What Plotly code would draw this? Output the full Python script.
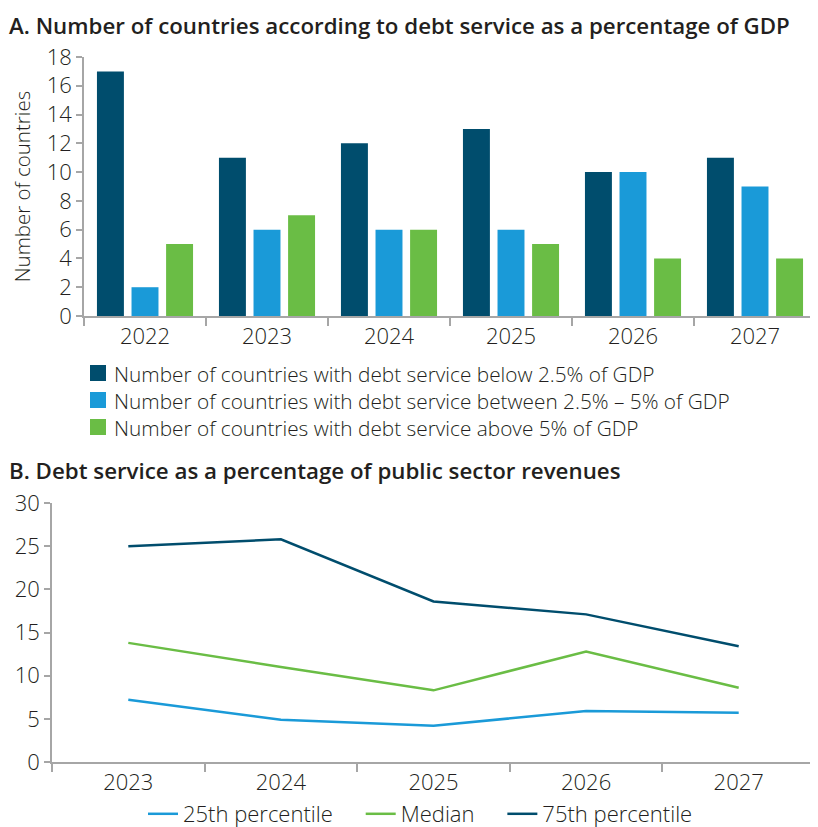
import plotly.graph_objects as go

years_a = ["2022", "2023", "2024", "2025", "2026", "2027"]
below_25 = [17, 11, 12, 13, 10, 11]
between_25_5 = [2, 6, 6, 6, 10, 9]
above_5 = [5, 7, 6, 5, 4, 4]
names_a = [
    "Number of countries with debt service below 2.5% of GDP",
    "Number of countries with debt service between 2.5% \u2013 5% of GDP",
    "Number of countries with debt service above 5% of GDP",
]

years_b = ["2023", "2024", "2025", "2026", "2027"]
p25 = [7.2, 4.9, 4.2, 5.9, 5.7]
median = [13.8, 11.0, 8.3, 12.8, 8.6]
p75 = [25.0, 25.8, 18.6, 17.1, 13.4]
names_b = ["25th percentile", "Median", "75th percentile"]

DARK = "#004d6d"
BLUE = "#1a9ad8"
GREEN = "#6abd45"
AX = "#a6a6a6"
TXT = "#231f20"
FONT = "Open Sans"

W, H = 818, 827
OFF = 8  # page body margin


def px_x(p):
    return (p - OFF) / W


def px_y(p):
    return (H - (p - OFF)) / H


fig = go.Figure()
colors_a = [DARK, BLUE, GREEN]
for vals, name, col in zip([below_25, between_25_5, above_5], names_a, colors_a):
    fig.add_trace(go.Bar(x=years_a, y=vals, name=name, marker=dict(color=col, line=dict(width=0)),
                         xaxis="x", yaxis="y", showlegend=False))

pad = "\u00a0\u00a0\u00a0\u00a0"
for i, (vals, name, col) in enumerate(zip([p25, median, p75], names_b, [BLUE, GREEN, DARK])):
    label = name + (pad if i < 2 else "")
    fig.add_trace(go.Scatter(x=years_b, y=vals, name=label, mode="lines", line=dict(color=col, width=2.5),
                             xaxis="x2", yaxis="y2", legend="legend2"))

tickfont = dict(family=FONT, size=22, color=TXT, weight=300)
axis_common = dict(showline=True, linecolor=AX, linewidth=1.5, showgrid=False, zeroline=False,
                   ticks="outside", tickcolor=AX, tickwidth=1.5, automargin=False,
                   tickfont=tickfont)

# custom legend for panel A (key squares + one multi-line label block)
legend_rows = [373, 400, 427]
shapes = []
for col, yc in zip(colors_a, legend_rows):
    shapes.append(dict(type="rect", xref="paper", yref="paper",
                       x0=px_x(90), x1=px_x(106), y0=px_y(yc + 8), y1=px_y(yc - 8),
                       fillcolor=col, line=dict(width=0)))

annotations = [
    dict(text="<br>".join(names_a), x=px_x(112), y=px_y(401), xref="paper", yref="paper",
         xanchor="left", yanchor="middle", align="left", showarrow=False,
         font=dict(family=FONT, size=20.8, color=TXT, weight=300)),
    dict(text="A. Number of countries according to debt service as a percentage of GDP",
         x=px_x(7), y=px_y(26), xref="paper", yref="paper", xanchor="left", yanchor="middle",
         showarrow=False, font=dict(family=FONT, size=22.3, color=TXT, weight=600)),
    dict(text="B. Debt service as a percentage of public sector revenues",
         x=px_x(7), y=px_y(471), xref="paper", yref="paper", xanchor="left", yanchor="middle",
         showarrow=False, font=dict(family=FONT, size=22.3, color=TXT, weight=600)),
]

fig.update_layout(
    template="none",
    width=W, height=H,
    margin=dict(l=0, r=0, t=0, b=0),
    paper_bgcolor="white", plot_bgcolor="white",
    font=dict(family=FONT, color=TXT),
    barmode="group", bargap=0.15, bargroupgap=0.22,
    xaxis=dict(type="category", domain=[px_x(84), px_x(816)], anchor="y", tickson="boundaries", ticklen=8,
               range=[-0.5, 5.5], **axis_common),
    yaxis=dict(domain=[px_y(316), px_y(57)], anchor="x", range=[0, 18], dtick=2, ticklen=6,
               title=dict(text="Number of countries", font=dict(family=FONT, size=20.5, color=TXT, weight=300),
                          standoff=28),
               **axis_common),
    xaxis2=dict(type="category", domain=[px_x(52), px_x(815)], anchor="y2", tickson="boundaries", ticklen=8,
                range=[-0.5, 4.5], **axis_common),
    yaxis2=dict(domain=[px_y(762), px_y(503)], anchor="x2", range=[0, 30], dtick=5, ticklen=6, **axis_common),
    legend2=dict(x=px_x(143), y=px_y(793), xanchor="left", yanchor="top", orientation="h",
                 font=dict(family=FONT, size=22, color=TXT, weight=300), itemwidth=30,
                 bgcolor="rgba(0,0,0,0)"),
    shapes=shapes,
    annotations=annotations,
)

fig.write_html("out.html")
